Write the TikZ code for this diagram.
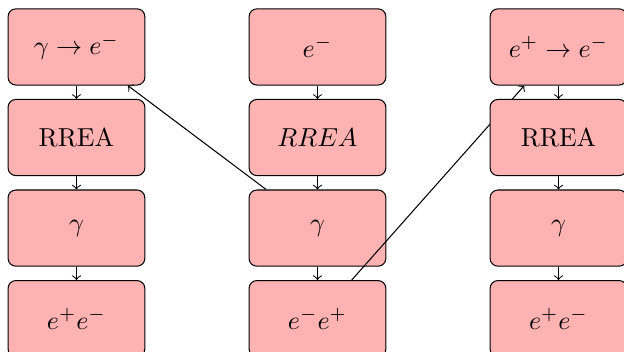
\documentclass[tikz,border=0pt]{standalone}
\usepackage{amsmath}
\usepackage{amssymb}
\usepackage{tikz}
\usetikzlibrary{arrows,positioning}
\tikzset{
    stage/.style={
    rectangle,rounded corners=3pt,draw=black,fill=red!30,
    minimum width=1.85cm,minimum height=1.03cm
    },
}
\begin{document}
\begin{tikzpicture}[node distance=1.225cm and 3.26cm, on grid, auto]
   \useasboundingbox (0,0) rectangle (8.44,4.76);
   % left column
   \node[stage] (a1) at (1.034,4.125) {$\gamma \to e^-$};
   \node[stage] (a2) [below=of a1] {RREA};
   \node[stage] (a3) [below=of a2] {$\gamma$};
   \node[stage] (a4) [below=of a3] {$e^+e^-$};
   % middle column
   \node[stage] (b1) [right=of a1] {$e^-$};
   \node[stage] (b2) [below=of b1] {$RREA$};
   \node[stage] (b3) [below=of b2] {$\gamma$};
   \node[stage] (b4) [below=of b3] {$e^-e^+$};
   % right column
   \node[stage] (c1) [right=of b1] {$e^+ \to e^-$};
  \path[->]
    (b4) edge node {} (c1);
   \node[stage] (c2) [below=of c1] {RREA};
   \node[stage] (c3) [below=of c2] {$\gamma$};
   \node[stage] (c4) [below=of c3] {$e^+e^-$};

  \path[->]
    (a1) edge node {} (a2)
    (a2) edge node {} (a3)
    (a3) edge node {} (a4)
    (b1) edge node {} (b2)
    (b2) edge node {} (b3)
    (b3) edge node {} (b4)
         edge node {} (a1)
    (c1) edge node {} (c2)
    (c2) edge node {} (c3)
    (c3) edge node {} (c4);
  \end{tikzpicture}
\end{document}
